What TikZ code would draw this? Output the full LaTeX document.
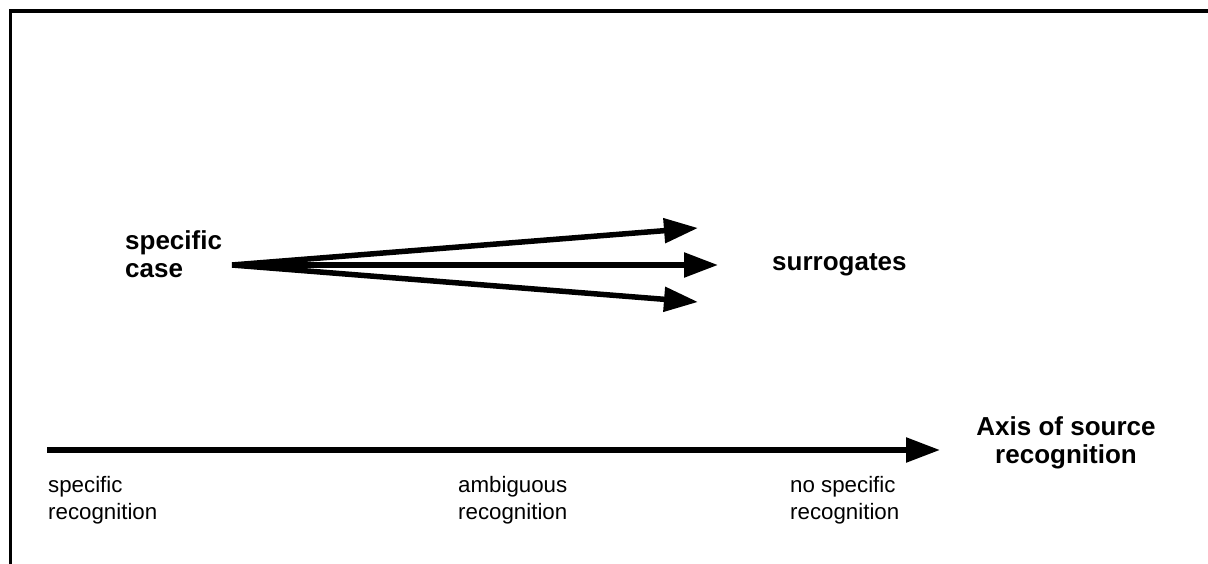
\documentclass[tikz,border=0pt]{standalone}
\usepackage{fontspec}
\setmainfont{Liberation Sans}
\usetikzlibrary{arrows.meta}
\begin{document}
\begin{tikzpicture}[x=1pt,y=-1pt,
  frame/.style={line width=3.2pt},
  arr/.style={line width=5.5pt, -{Triangle[length=34pt,width=24pt]}},
  lbl/.style={inner sep=0pt, align=left, font=\fontsize{22.3}{27}\selectfont},
  blbl/.style={inner sep=0pt, align=left, font=\bfseries\fontsize{26}{28}\selectfont}]
\useasboundingbox (0,0) rectangle (1208,564);
\coordinate (fb) at (10.5,564);
\coordinate (fc) at (10.5,11);
\coordinate (fr) at (1208,11);
\draw[frame] (fb) -- (fc) -- (fr);
% surrogate arrows
\coordinate (o) at (232,265);
\coordinate (t1) at (698,228);
\coordinate (t2) at (718,265);
\coordinate (t3) at (698,302);
\draw[arr] (o) -- (t1);
\draw[arr] (o) -- (t2);
\draw[arr] (o) -- (t3);
% axis
\coordinate (a0) at (47,450);
\coordinate (a1) at (940,450);
\draw[arr] (a0) -- (a1);
% labels
\node[blbl, anchor=base west] (sc) at (125,277) {specific\\case};
\node[blbl, anchor=base west] (sur) at (772,270) {surrogates};
\node[blbl, align=center, anchor=base] (ax) at (1066,463) {Axis of source\\recognition};
\node[lbl, anchor=base west] (l1) at (48,519) {specific\\recognition};
\node[lbl, anchor=base west] (l2) at (458,519) {ambiguous\\recognition};
\node[lbl, anchor=base west] (l3) at (790,519) {no specific\\recognition};
\end{tikzpicture}
\end{document}
